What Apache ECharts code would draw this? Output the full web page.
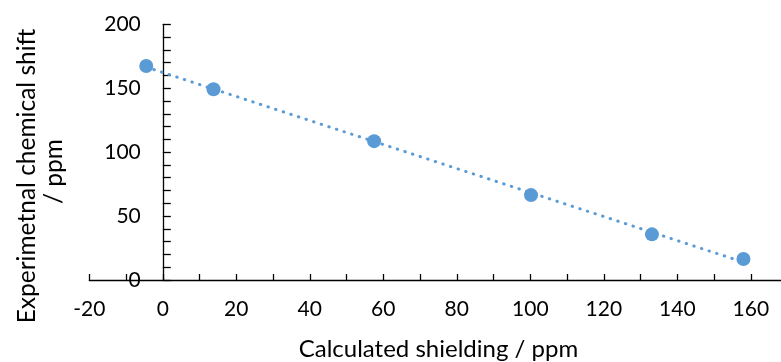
<!DOCTYPE html>
<html>
<head>
<meta charset="utf-8">
<script src="https://cdn.jsdelivr.net/npm/echarts@6/dist/echarts.min.js"></script>
<style>
html,body{margin:0;padding:0;background:#fff;}
#chart{width:781px;height:362px;}
</style>
</head>
<body>
<div id="chart"></div>
<script>
// Data
var calculatedShielding = [-4.5, 13.8, 57.5, 100.2, 133.1, 158.0];
var experimentalShift   = [167.4, 149.2, 108.6, 66.4, 35.7, 16.4];
var xTitle = 'Calculated shielding / ppm';
var yTitleLine1 = 'Experimetnal chemical shift';
var yTitleLine2 = '/ ppm';

// Linear trendline (least squares) over the data, like a spreadsheet trendline
var n = calculatedShielding.length, sx = 0, sy = 0, sxx = 0, sxy = 0;
for (var i = 0; i < n; i++) {
  var xv = calculatedShielding[i], yv = experimentalShift[i];
  sx += xv; sy += yv; sxx += xv * xv; sxy += xv * yv;
}
var slope = (n * sxy - sx * sy) / (n * sxx - sx * sx);
var intercept = (sy - slope * sx) / n;
var xMin = Math.min.apply(null, calculatedShielding);
var xMax = Math.max.apply(null, calculatedShielding);
var trend = [[xMin, intercept + slope * xMin], [xMax, intercept + slope * xMax]];

var points = calculatedShielding.map(function (v, i) { return [v, experimentalShift[i]]; });

var FONT = 'Lato';
var chart = echarts.init(document.getElementById('chart'), null, {renderer: 'canvas'});
chart.setOption({
  animation: false,
  backgroundColor: '#ffffff',
  grid: {left: 89.3, top: 24.3, width: 698.25, height: 255.7, containLabel: false, outerBoundsMode: 'none'},
  xAxis: {
    type: 'value', min: -20, max: 170, interval: 20,
    name: xTitle, nameLocation: 'middle', nameGap: 57,
    nameTextStyle: {fontFamily: FONT, fontSize: 24, color: '#000'},
    axisLine: {show: true, onZero: true, lineStyle: {color: '#000', width: 1.3}},
    axisTick: {show: true, inside: true, length: 6, lineStyle: {color: '#000', width: 1.3}},
    minorTick: {show: true, splitNumber: 2, length: 6, lineStyle: {color: '#000', width: 1.3}},
    splitLine: {show: false},
    axisLabel: {fontFamily: FONT, fontSize: 21, color: '#000', margin: 19, showMaxLabel: false}
  },
  yAxis: {
    type: 'value', min: 0, max: 200, interval: 50,
    axisLine: {show: true, onZero: true, lineStyle: {color: '#000', width: 1.3}},
    axisTick: {show: true, inside: true, length: 8, lineStyle: {color: '#000', width: 1.3}},
    minorTick: {show: true, splitNumber: 5, length: 8, lineStyle: {color: '#000', width: 1.3}},
    splitLine: {show: false},
    axisLabel: {fontFamily: FONT, fontSize: 21, color: '#000', margin: -51.5}
  },
  graphic: [
    {type: 'text', x: 27, y: 176, rotation: Math.PI / 2,
     style: {text: yTitleLine1, fontFamily: FONT, fontSize: 24.5, fill: '#000', align: 'center', verticalAlign: 'middle'}},
    {type: 'text', x: 54, y: 171.5, rotation: Math.PI / 2,
     style: {text: yTitleLine2, fontFamily: FONT, fontSize: 24.5, fill: '#000', align: 'center', verticalAlign: 'middle'}}
  ],
  series: [
    {type: 'scatter', data: points, symbol: 'circle', symbolSize: 14,
     itemStyle: {color: '#5B9BD5', opacity: 1}, z: 2},
    {type: 'line', data: trend, showSymbol: false, silent: true, z: 3,
     lineStyle: {color: '#5B9BD5', width: 3, type: [0.5, 7.5], cap: 'round'}}
  ]
});
</script>
</body>
</html>
